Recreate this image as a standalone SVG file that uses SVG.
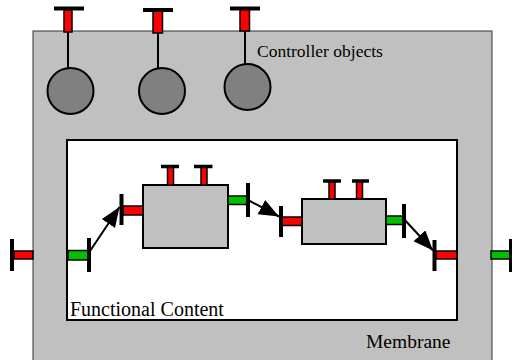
<svg xmlns="http://www.w3.org/2000/svg" width="512" height="360" viewBox="0 0 512 360">
<style>
.mem{fill:#c0c0c0;stroke:#333;stroke-width:1}
.inner{fill:#fff;stroke:#000;stroke-width:2}
.box{fill:#c0c0c0;stroke:#000;stroke-width:2}
.ctl{fill:#808080;stroke:#000;stroke-width:2}
.red{fill:#ff0000;stroke:#000;stroke-width:1.5}
.green{fill:#00c000;stroke:#000;stroke-width:1.5}
.bar{stroke:#000;stroke-width:4;stroke-linecap:butt}
.sbar{stroke:#000;stroke-width:3.5}
.wire{stroke:#000;stroke-width:2;fill:none}
.lbl{font-family:"Liberation Serif","Times New Roman",serif;fill:#000}
</style>
<defs>
<marker id="ah" markerUnits="userSpaceOnUse" markerWidth="22" markerHeight="18" refX="20" refY="8" orient="auto">
<path d="M0,0 L20,8 L0,16 Z" fill="#000"/>
</marker>
</defs>
<g id="membrane">
<rect class="mem" x="33" y="31" width="459" height="340"/>
<text class="lbl" x="366" y="348" font-size="19.5">Membrane</text>
</g>
<g id="controller-objects">
<text class="lbl" x="257" y="57" font-size="17.5">Controller objects</text>
</g>
<g id="controller1">
<line class="wire" x1="68" y1="32" x2="68" y2="68"/>
<circle class="ctl" cx="70.5" cy="91" r="23"/>
<rect class="red" x="64" y="10" width="8" height="22"/>
<line class="bar" x1="54" y1="8.5" x2="84" y2="8.5"/>
</g>
<g id="controller2">
<line class="wire" x1="158" y1="33" x2="158" y2="68"/>
<circle class="ctl" cx="162" cy="91" r="23"/>
<rect class="red" x="153" y="11" width="9.5" height="22"/>
<line class="bar" x1="143" y1="10" x2="173" y2="10"/>
</g>
<g id="controller3">
<line class="wire" x1="245" y1="31" x2="245" y2="64"/>
<circle class="ctl" cx="247.5" cy="87" r="23"/>
<rect class="red" x="240" y="9" width="9.5" height="22"/>
<line class="bar" x1="230" y1="8.5" x2="260" y2="8.5"/>
</g>
<g id="functional-content">
<rect class="inner" x="67" y="140" width="390" height="180"/>
<text class="lbl" x="70" y="316" font-size="20">Functional Content</text>
</g>
<g id="port-outer-left">
<rect class="red" x="14" y="251" width="19" height="8"/>
<line class="bar" x1="12" y1="239" x2="12" y2="271"/>
</g>
<g id="port-inner-left">
<rect class="green" x="68" y="250.5" width="20" height="9.5"/>
<line class="bar" x1="89" y1="238" x2="89" y2="272"/>
</g>
<g id="box1">
<rect class="box" x="143" y="185" width="85" height="63"/>
<rect class="red" x="167.5" y="167" width="6" height="18"/>
<line class="sbar" x1="161" y1="166.5" x2="179" y2="166.5"/>
<rect class="red" x="201" y="167" width="6" height="18"/>
<line class="sbar" x1="194" y1="166.5" x2="212.5" y2="166.5"/>
<rect class="red" x="123" y="206" width="20" height="9"/>
<line class="bar" x1="121.5" y1="194" x2="121.5" y2="225"/>
<rect class="green" x="228" y="196" width="19" height="8.5"/>
<line class="bar" x1="248" y1="183" x2="248" y2="217"/>
</g>
<g id="box2">
<rect class="box" x="302" y="199" width="84" height="45"/>
<rect class="red" x="329" y="182" width="6" height="17"/>
<line class="sbar" x1="323" y1="181" x2="341" y2="181"/>
<rect class="red" x="356.5" y="182" width="6" height="17"/>
<line class="sbar" x1="352" y1="181" x2="369" y2="181"/>
<rect class="red" x="282" y="217" width="20" height="8.5"/>
<line class="bar" x1="281" y1="206" x2="281" y2="237"/>
<rect class="green" x="386" y="216" width="18" height="8.5"/>
<line class="bar" x1="404" y1="204" x2="404" y2="238"/>
</g>
<g id="port-inner-right">
<rect class="red" x="436" y="251" width="21" height="8"/>
<line class="bar" x1="434.5" y1="240" x2="434.5" y2="271"/>
</g>
<g id="port-outer-right">
<rect class="green" x="491" y="251" width="19" height="8"/>
<line class="bar" x1="511" y1="239" x2="511" y2="272"/>
</g>
<g id="connectors">
<line class="wire" x1="90" y1="251" x2="119.5" y2="207" marker-end="url(#ah)"/>
<line class="wire" x1="248" y1="200" x2="279" y2="216.5" marker-end="url(#ah)"/>
<line class="wire" x1="403" y1="218" x2="433" y2="250.5" marker-end="url(#ah)"/>
</g>
</svg>
